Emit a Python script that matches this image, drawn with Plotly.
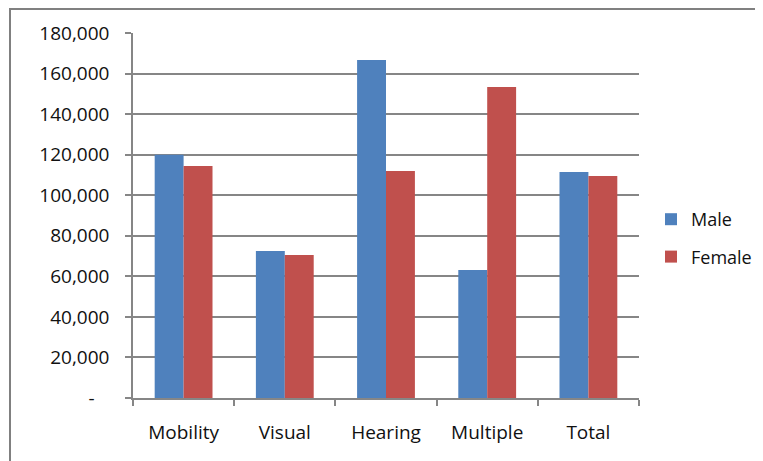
import plotly.graph_objects as go

categories = ["Mobility", "Visual", "Hearing", "Multiple", "Total"]
male = [120000, 72500, 166700, 63100, 111500]
female = [114400, 70500, 112000, 153400, 109500]
tick_vals = [0, 20000, 40000, 60000, 80000, 100000, 120000, 140000, 160000, 180000]
tick_text = ["-\u00a0\u00a0\u00a0", "20,000", "40,000", "60,000", "80,000", "100,000",
             "120,000", "140,000", "160,000", "180,000"]

FONT = "Open Sans"
GRID = "#868686"
TXT = "#111111"

# page has an 8px body margin, so the figure is 8px smaller than the window
W, H = 755, 453

fig = go.Figure()
fig.add_trace(go.Bar(name="Male", x=categories, y=male, marker_color="#4F81BD",
                     marker_line_width=0, legendgroup="m"))
fig.add_trace(go.Bar(name="Female", x=categories, y=female, marker_color="#C0504D",
                     marker_line_width=0, legendgroup="f"))

fig.update_layout(
    width=W, height=H,
    margin=dict(l=125, r=124, t=25, b=63, autoexpand=False),
    paper_bgcolor="white", plot_bgcolor="white",
    barmode="group", bargap=0.4286, bargroupgap=0,
    font=dict(family=FONT, size=19, color=TXT),
    showlegend=True,
    legend=dict(xref="container", yref="container",
                x=643 / W, y=1 - 230 / H, xanchor="left", yanchor="middle",
                font=dict(family=FONT, size=18, color=TXT),
                traceorder="grouped", tracegroupgap=11,
                bgcolor="rgba(0,0,0,0)"),
    xaxis=dict(showline=True, linecolor=GRID, linewidth=1.5,
               ticks="outside", ticklen=6, tickcolor=GRID, tickwidth=1.5,
               tickson="boundaries", ticklabelstandoff=16, automargin=False,
               showgrid=False, zeroline=False),
    yaxis=dict(range=[0, 180000], tickvals=tick_vals, ticktext=tick_text,
               showline=True, linecolor=GRID, linewidth=1.5,
               ticks="outside", ticklen=6, tickcolor=GRID, tickwidth=1.5,
               ticklabelstandoff=12, automargin=False,
               showgrid=True, gridcolor=GRID, gridwidth=1.5, zeroline=False),
    shapes=[dict(type="rect", xref="paper", yref="paper",
                 x0=-123/506, x1=1 + 140/506, y0=-80/365, y1=1 + 24/365,
                 line=dict(color="#808080", width=2), layer="below")],
)

fig.write_html("out.html")
